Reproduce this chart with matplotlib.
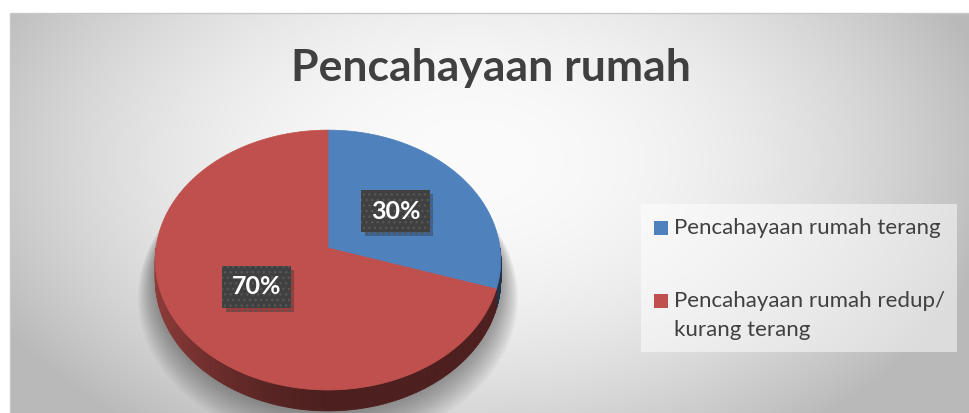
import matplotlib.pyplot as plt
import numpy as np
from matplotlib.patches import Polygon, Rectangle
from matplotlib import patheffects
from matplotlib.colors import to_rgb

title = "Pencahayaan rumah"
labels = ["Pencahayaan rumah terang", "Pencahayaan rumah redup/\nkurang terang"]
values = [30, 70]
colors = ["#4F81BD", "#C0504D"]

W, H = 969, 413
plt.rcParams['font.family'] = ['Lato', 'DejaVu Sans']

fig = plt.figure(figsize=(W / 100, H / 100), dpi=100)
ax = fig.add_axes([0, 0, 1, 1])
ax.set_xlim(0, W)
ax.set_ylim(H, 0)
ax.axis('off')

# radial gray background of the chart area
yy, xx = np.mgrid[13:H, 10:W]
r2 = ((xx - 470) / 520.0) ** 2 + ((yy - 160) / 330.0) ** 2
bg = np.clip(251 - 62 * r2, 185, 252) / 255.0
ax.imshow(np.dstack([bg, bg, bg]), extent=[10, W, H, 13], zorder=0, aspect='auto')
ax.add_patch(Rectangle((10, 13), W, H, fill=False, ec='#c8c8c8', lw=1, zorder=1))

# 3d pie in perspective
cx, cy, R, k, d, depth = 328, 248, 172, 0.749, 10.8, 19


def proj(theta, rad=1.0, z=0.0):
    x = rad * np.sin(theta)
    y = -rad * np.cos(theta)
    s = d / (d - y)
    return cx + R * x * s, cy + (R * k * y + z) * s


fracs = np.array(values, dtype=float) / sum(values)
bounds = np.concatenate([[0], np.cumsum(fracs)]) * 2 * np.pi

# soft shadow under the pie
t = np.linspace(0, 2 * np.pi, 300)
for i in range(16):
    rad = 1.10 - i * 0.006
    px, py = proj(t, rad, depth + 16 - i)
    ax.add_patch(Polygon(np.column_stack([px, py]), closed=True, fc='#000000',
                         ec='none', alpha=0.022, zorder=2))

# side walls (front half only)
for j in range(len(values)):
    a0, a1 = bounds[j], bounds[j + 1]
    lo, hi = max(a0, np.pi / 2), min(a1, 3 * np.pi / 2)
    if hi <= lo:
        continue
    ts = np.linspace(lo, hi, 160)
    base = np.array(to_rgb(colors[j]))
    for ta, tb in zip(ts[:-1], ts[1:]):
        xa, ya = proj(ta)
        xb, yb = proj(tb)
        xa2, ya2 = proj(ta, 1.0, depth)
        xb2, yb2 = proj(tb, 1.0, depth)
        tm = 0.5 * (ta + tb)
        f = 0.40 + 0.35 * max(0.0, -np.sin(tm)) ** 1.5
        c = base * f
        ax.add_patch(Polygon([(xa, ya), (xb, yb), (xb2, yb2), (xa2, ya2)],
                             closed=True, fc=c, ec=c, lw=0.6, zorder=3))

# top faces
for j in range(len(values)):
    ts = np.linspace(bounds[j], bounds[j + 1], 200)
    px, py = proj(ts)
    pts = np.vstack([[cx, cy], np.column_stack([px, py])])
    ax.add_patch(Polygon(pts, closed=True, fc=colors[j], ec=colors[j], lw=0.5, zorder=4))

# data labels
for j in range(len(values)):
    mid = 0.5 * (bounds[j] + bounds[j + 1])
    lx, ly = proj(mid, 0.5)
    tx = ax.text(lx, ly, f"{values[j]}%", ha='center', va='center', fontsize=18,
                 fontweight='bold', color='white', zorder=6,
                 bbox=dict(boxstyle='square,pad=0.38', fc='#404040', ec='#565656',
                           lw=0, hatch='...'))
    tx.get_bbox_patch().set_path_effects([
        patheffects.SimplePatchShadow(offset=(2.5, -3), shadow_rgbFace='black', alpha=0.22),
        patheffects.Normal()])

# title
ax.text(491, 68, title, ha='center', va='center', fontsize=32, fontweight='bold',
        color='#404040', zorder=6)

# legend
ax.add_patch(Rectangle((641, 204), 316, 148, fc='white', ec='none', alpha=0.5, zorder=5))
leg_y = [228, 301]
for j in range(len(values)):
    ax.add_patch(Rectangle((654, leg_y[j] - 7), 14, 14, fc=colors[j], ec='none', zorder=6))
    for n, line in enumerate(labels[j].split('\n')):
        ax.text(674, leg_y[j] + 6 + 29 * n, line, ha='left', va='baseline',
                fontsize=16, color='#404040', zorder=6)

fig.savefig('out.png', dpi=100)
